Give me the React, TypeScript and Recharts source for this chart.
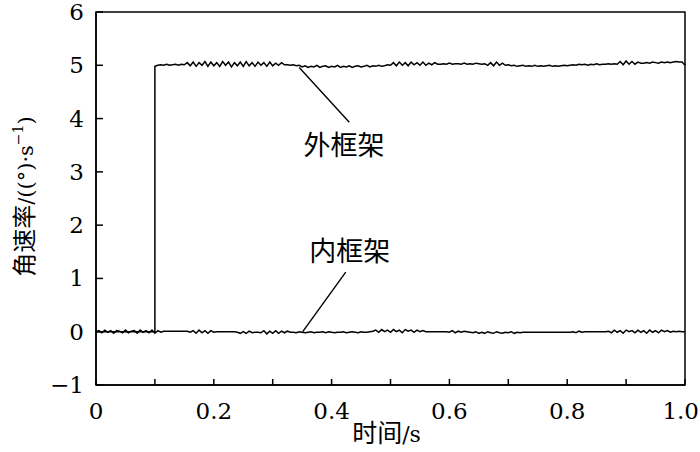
import React from 'react';
import { LineChart, Line, XAxis, YAxis, ReferenceArea, ReferenceLine, ReferenceDot } from 'recharts';

// sample step of the recorded signals (s)
const SAMPLE_STEP = 0.005;
const STEP_TIME = 0.1;

// 内框架: t = 0 ... 1.0, every 0.005 s
const innerRate = [
  0, 0.02, -0.02, 0.03, -0.01, 0.02, -0.03, 0.02, 0.01, -0.02, 0.03, -0.02, 0.01, 0.02, -0.03, 0.03, -0.01, 0.02, -0.02, 0.03, -0.03, 0.02, -0.01,
  0.01, 0.01, 0.01, 0.01, 0.01, 0.01, 0.01, 0.01, 0.01,
  -0.01, 0.02, -0.03, 0.03, -0.02, 0.02, -0.03, 0.02, -0.01, 0,
  0, 0, 0, 0, 0, 0,
  -0.01, -0.03, 0, -0.03, 0.01, -0.02, -0.01,
  -0.01,
  -0.02, 0.02, -0.04, 0.01, -0.03, 0.02, -0.03, 0.01, -0.02, 0.01, -0.01,
  -0.01, -0.02, 0, -0.01, -0.02, -0.01, 0, -0.02, -0.01, -0.01, 0, -0.02, 0, -0.01, -0.02, -0.01, -0.01, 0, -0.02, -0.01, 0, -0.01, -0.02, 0, -0.01, -0.01, 0,
  0.01, 0.03, -0.01, 0.04, 0, 0.03, -0.01, 0.04, 0, 0.03, -0.02, 0.04, 0.01, 0.03, -0.01, 0.03, 0, 0.02, 0,
  0, 0, 0, 0, 0, 0, 0,
  -0.01, 0.02, -0.02, 0.01, -0.01, 0.01, 0,
  -0.01,
  -0.02, 0, -0.03, -0.01, -0.03, 0, -0.02, -0.03, 0, -0.02, -0.03, -0.01, -0.02, 0, -0.03, -0.01, -0.02, -0.01,
  -0.01, -0.01, -0.01, -0.01, -0.01, -0.01, -0.01, -0.01, -0.01, -0.01, -0.01, -0.01, -0.01, -0.01, -0.01, -0.01,
  0, -0.02, 0.01, -0.01, 0,
  0, 0, 0, 0, 0, 0, 0,
  0.01, -0.02, 0.03, -0.01, 0.02, -0.03, 0.03, 0, 0.02, -0.02, 0.03, -0.01, 0.02, -0.03, 0.03, -0.01, 0.02, -0.02, 0.03, 0, 0.02, -0.01, 0.01,
  0, 0.01, 0, 0,
];

// 外框架: 0 until the step, then t = 0.1 ... 1.0, every 0.005 s
const outerRate = [
  4.98, 5.0, 5.01, 5.0, 5.02, 5.0, 5.01, 5.02, 5.0, 5.02, 5.01,
  5.05, 4.99, 5.06, 4.98, 5.05, 5.0, 5.07, 4.98, 5.06, 4.99, 5.05, 4.98, 5.07, 5.0, 5.06, 4.97, 5.05, 4.99, 5.06, 4.98,
  5.07, 4.99, 5.05, 4.98, 5.06, 5.0, 5.05, 4.98, 5.06, 4.99, 5.04, 5.0, 5.05, 5.01,
  5.01, 5.0, 5.01, 4.99, 5.0,
  4.97, 4.99, 4.96, 4.98, 4.97, 5.0, 4.96, 4.98, 4.99, 4.96, 4.98, 4.97, 5.0, 4.96, 4.98, 4.97, 4.99, 4.96, 4.98, 4.99,
  4.97, 4.98, 5.0, 4.97, 4.99, 4.98, 5.0, 4.98, 4.99, 5.01,
  5.0, 5.05, 4.99, 5.06, 5.0, 5.05, 4.99, 5.06, 5.01, 5.05, 5.0, 5.06, 5.0, 5.04, 5.01, 5.05, 5.02,
  5.02, 5.03, 5.02, 5.04, 5.02, 5.03, 5.03, 5.02, 5.04, 5.02, 5.03, 5.02, 5.04, 5.03, 5.02, 5.03,
  5.0, 5.05, 4.99, 5.06, 5.0, 5.04, 5.0, 5.01,
  4.99, 5.0, 4.98, 4.99, 5.0, 4.98, 4.99, 4.98, 5.0, 4.98, 4.99, 4.98, 4.99, 5.0, 4.98, 4.99, 4.98, 4.99, 5.0, 4.99,
  5.0, 5.01, 5.0, 5.02, 5.01, 5.02, 5.0, 5.02, 5.01, 5.03, 5.01, 5.02, 5.02, 5.03, 5.02, 5.03,
  5.02, 5.07, 5.01, 5.08, 5.02, 5.07, 5.02, 5.06, 5.04,
  5.04, 5.05, 5.04, 5.06, 5.05, 5.04, 5.06, 5.05, 5.06, 5.05, 5.06, 5.07, 5.06,
  5.06, 5.0,
];

const xTicks = [0, 0.1, 0.2, 0.3, 0.4, 0.5, 0.6, 0.7, 0.8, 0.9, 1.0];
const yTicks = [-1, 0, 1, 2, 3, 4, 5, 6];

const innerData = innerRate.map((v, i) => ({ t: i * SAMPLE_STEP, v }));
const outerData = [
  { t: 0, v: 0 },
  { t: STEP_TIME, v: 0 },
  ...outerRate.map((v, i) => ({ t: STEP_TIME + i * SAMPLE_STEP, v })),
];

// no Times here, DejaVu Serif is the closest serif
const serif = 'DejaVu Serif';
const cjk = 'Noto Sans CJK SC';

const formatX = (v: number) => {
  const r = Math.round(v * 10);
  if (r % 2 === 1) return '';
  if (r === 0) return '0';
  return v.toFixed(1);
};
const formatY = (v: number) => (v < 0 ? '\u2212' + Math.abs(v) : String(v));

const XTick = (props: any) => {
  const { x, y, payload } = props;
  // last label would spill past the page edge
  const isLast = payload.value >= 1;
  return (
    <text x={isLast ? 699 : x} y={y} dy={18} textAnchor={isLast ? 'end' : 'middle'} fontFamily={serif} fontSize={23} fill="#000">
      {formatX(payload.value)}
    </text>
  );
};

const YTick = (props: any) => {
  const { x, y, payload } = props;
  return (
    <text x={x} y={y} dy={8} textAnchor="end" fontFamily={serif} fontSize={23} fill="#000">
      {formatY(payload.value)}
    </text>
  );
};

const YTitle = (props: any) => {
  const { viewBox } = props;
  const cx = 33;
  const cy = viewBox.y + viewBox.height / 2 - 2;
  return (
    <text x={cx} y={cy} transform={`rotate(-90 ${cx} ${cy})`} textAnchor="middle" fill="#000" fontSize={24}>
      <tspan fontFamily={cjk}>角速率</tspan>
      <tspan fontFamily={serif} fontSize={21}>/((°)·s</tspan>
      <tspan dy={-10} fontFamily={serif} fontSize={14}>−1</tspan>
      <tspan dy={10} fontFamily={serif} fontSize={21}>)</tspan>
    </text>
  );
};

const XTitle = (props: any) => {
  const { viewBox } = props;
  const cx = viewBox.x + viewBox.width / 2 - 4;
  return (
    <text x={cx} y={442} textAnchor="middle" fill="#000" fontSize={25}>
      <tspan fontFamily={cjk}>时间</tspan>
      <tspan fontFamily={serif} fontSize={22}>/s</tspan>
    </text>
  );
};

export default function App() {
  return (
    <div style={{ position: 'absolute', left: 0, top: 0, width: 700, height: 452, background: '#fff' }}>
      <LineChart width={700} height={452} margin={{ top: 12, right: 15, bottom: 0, left: 0 }}>
        <XAxis
          dataKey="t"
          type="number"
          domain={[0, 1]}
          ticks={xTicks}
          interval={0}
          tick={<XTick />}
          tickSize={-6}
          tickMargin={22}
          height={67}
          stroke="#000"
          strokeWidth={1.5}
          allowDuplicatedCategory={false}
          label={<XTitle />}
        />
        <YAxis
          type="number"
          domain={[-1, 6]}
          ticks={yTicks}
          interval={0}
          tick={<YTick />}
          tickSize={-7}
          tickMargin={19}
          width={96}
          stroke="#000"
          strokeWidth={1.5}
          label={<YTitle />}
        />
        <ReferenceArea x1={0} x2={1} y1={-1} y2={6} fill="none" stroke="#000" strokeWidth={1.5} fillOpacity={0} />
        <Line data={innerData} dataKey="v" type="linear" stroke="#000" strokeWidth={1.5} dot={false} isAnimationActive={false} />
        <Line data={outerData} dataKey="v" type="linear" stroke="#000" strokeWidth={1.5} dot={false} isAnimationActive={false} />
        <ReferenceLine segment={[{ x: 0.345, y: 4.96 }, { x: 0.43, y: 3.93 }]} stroke="#000" strokeWidth={1.4} />
        <ReferenceLine segment={[{ x: 0.424, y: 1.12 }, { x: 0.351, y: 0 }]} stroke="#000" strokeWidth={1.4} />
        <ReferenceDot x={0.421} y={3.5} r={0} fill="none" stroke="none"
          label={{ value: '外框架', position: 'center', fontFamily: cjk, fontSize: 27, fill: '#000' }} />
        <ReferenceDot x={0.431} y={1.5} r={0} fill="none" stroke="none"
          label={{ value: '内框架', position: 'center', fontFamily: cjk, fontSize: 27, fill: '#000' }} />
      </LineChart>
    </div>
  );
}
